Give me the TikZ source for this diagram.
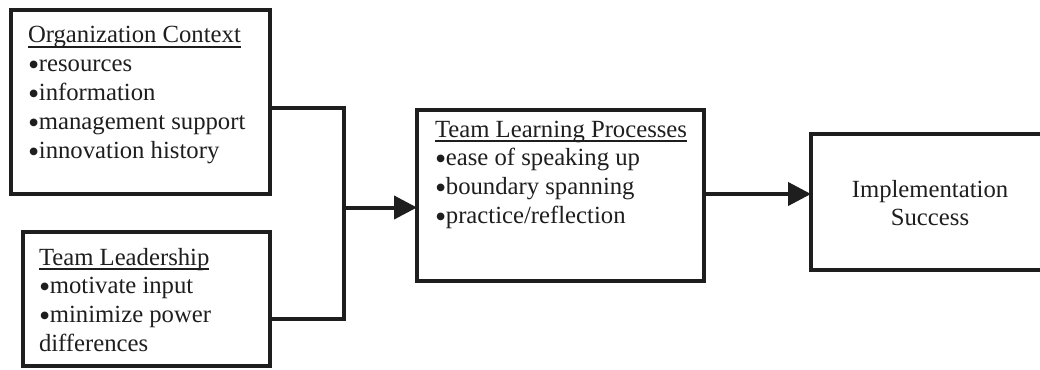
\documentclass[tikz,border=0pt]{standalone}
\usepackage{fontspec}
\setmainfont{Liberation Serif}
\usetikzlibrary{arrows.meta}

% heading with a rule drawn under it
\newcommand\headline[1]{\setbox0\hbox{#1}\rlap{\rule[-4.6pt]{\wd0}{1.3pt}}\box0}
% list bullet, a little heavier than the text one
\newcommand\dotitem{\smash{\fontsize{32pt}{0pt}\selectfont\raisebox{-4pt}{•}}\kern-0.3pt}
% stacked lines with a fixed line pitch
\newcommand\linesleft[1]{\vtop{\baselineskip=28.8pt\lineskiplimit=-100pt\halign{##\hfil\cr#1\crcr}}}
\newcommand\linescentre[1]{\vtop{\baselineskip=28.8pt\lineskiplimit=-100pt\halign{\hfil##\hfil\cr#1\crcr}}}

\definecolor{ink}{HTML}{1E1E1E}

\tikzset{
  box/.style={draw=ink, line width=4pt, inner sep=0pt, outer sep=0pt, anchor=north west},
  label/.style={inner sep=0pt, outer sep=0pt, text=ink, font=\fontsize{24.7pt}{28.8pt}\selectfont},
  link/.style={draw=ink, line width=4pt, line join=miter},
  flow/.style={link, -{Triangle[length=23pt,width=23pt]}}
}

\begin{document}
\begin{tikzpicture}[x=1pt, y=-1pt]
  \useasboundingbox (0,0) rectangle (1040,369);
  \clip (0,0) rectangle (1040,369);

  % boxes
  \node[box, minimum width=259pt, minimum height=183.5pt] (org) at (10.5,10.5) {};
  \node[box, minimum width=247pt, minimum height=134pt] (lead) at (23,232) {};
  \node[box, minimum width=287pt, minimum height=171pt] (learn) at (417,110) {};
  \node[box, minimum width=238pt, minimum height=136pt] (impl) at (811,133.5) {};

  % box texts
  \node[label, anchor=base west] (orgtxt) at (28,43) {\linesleft{%
    \headline{Organization Context}\cr
    \dotitem resources\cr
    \dotitem information\cr
    \dotitem management support\cr
    \dotitem innovation history}};
  \node[label, anchor=base west] (leadtxt) at (39,265) {\linesleft{%
    \headline{Team Leadership}\cr
    \dotitem motivate input\cr
    \dotitem minimize power\cr
    differences}};
  \node[label, anchor=base west] (learntxt) at (435,137) {\linesleft{%
    \headline{Team Learning Processes}\cr
    \dotitem ease of speaking up\cr
    \dotitem boundary spanning\cr
    \dotitem practice/reflection}};
  \node[label, anchor=base] (impltxt) at (930,197) {\linescentre{%
    Implementation\cr
    Success}};

  % connectors
  \coordinate (merge) at (344,207.5);
  \draw[link] ([yshift=-5.75pt]org.east) -| (merge);
  \draw[link] ([yshift=-20pt]lead.east) -| (merge);
  \draw[flow] (merge) -- (merge -| learn.west);
  \draw[flow] ([yshift=1.5pt]learn.east) -- ([yshift=1.5pt]learn.east -| impl.west);
\end{tikzpicture}
\end{document}
